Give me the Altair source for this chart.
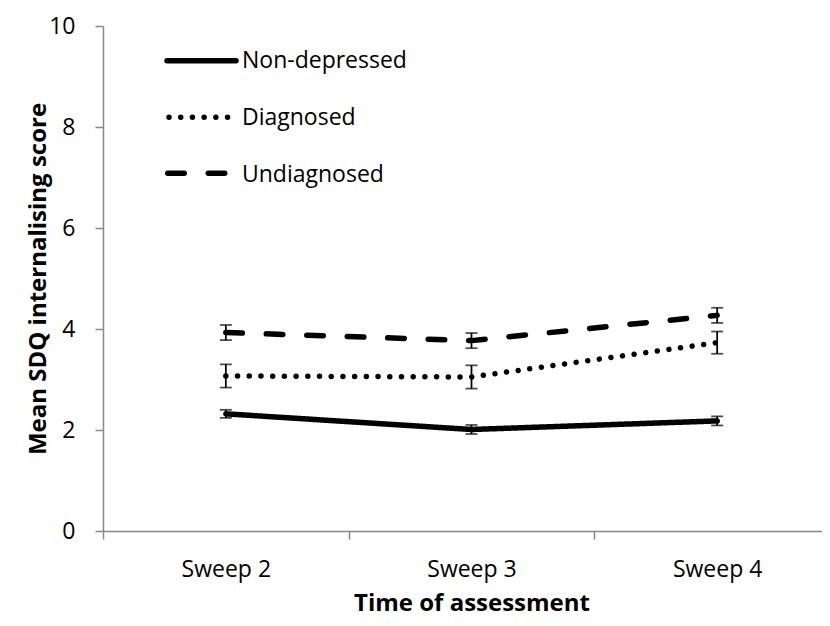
import altair as alt
import pandas as pd

# ---- data ----
sweeps = ["Sweep 2", "Sweep 3", "Sweep 4"]
groups = ["Non-depressed", "Diagnosed", "Undiagnosed"]
non_depressed = [2.32, 2.01, 2.18]
non_depressed_err = [0.08, 0.09, 0.09]
diagnosed = [3.07, 3.05, 3.73]
diagnosed_err = [0.23, 0.23, 0.22]
undiagnosed = [3.93, 3.77, 4.27]
undiagnosed_err = [0.15, 0.15, 0.15]
y_ticks = [0, 2, 4, 6, 8, 10]

rows = []
for g, vals, errs in zip(groups,
                         [non_depressed, diagnosed, undiagnosed],
                         [non_depressed_err, diagnosed_err, undiagnosed_err]):
    for s, v, e in zip(sweeps, vals, errs):
        rows.append({"sweep": s, "group": g, "mean": v, "lo": v - e, "hi": v + e})
df = pd.DataFrame(rows)

FONT = "Open Sans"
GRAY = "#888888"
LW = 5.5
dashes = [[1, 0], [0.01, 11.7], [16.5, 24]]

x_enc = alt.X(
    "sweep:N", sort=sweeps,
    scale=alt.Scale(type="band", domain=sweeps, range=[0, 737], paddingInner=0, paddingOuter=0),
    axis=alt.Axis(title="Time of assessment", tickBand="extent", labelAngle=0,
                  labelBaseline="alphabetic", labelPadding=37,
                  titleX=368.5, titleY=79, titleBaseline="alphabetic", titleAlign="center"),
)
y_axis = alt.Axis(values=y_ticks, title="Mean SDQ internalising score",
                  labelPadding=20, titleX=-58, titleY=252.5,
                  titleBaseline="alphabetic", titleAlign="center", titleAngle=270)
y_scale = alt.Scale(domain=[0, 10], nice=False, zero=True)

base = alt.Chart(df)

lines = base.mark_line(color="black", strokeWidth=LW, strokeCap="round", strokeJoin="round").encode(
    x=x_enc,
    y=alt.Y("mean:Q", scale=y_scale, axis=y_axis),
    strokeDash=alt.StrokeDash("group:N", scale=alt.Scale(domain=groups, range=dashes), legend=None),
    detail="group:N",
)

err_rules = base.mark_rule(color="black", strokeWidth=1.75).encode(
    x=x_enc,
    y=alt.Y("lo:Q", scale=y_scale, axis=y_axis),
    y2="hi:Q",
)
cap_lo = base.mark_tick(color="black", thickness=1.75, size=12, orient="horizontal").encode(
    x=x_enc, y=alt.Y("lo:Q", scale=y_scale, axis=y_axis))
cap_hi = base.mark_tick(color="black", thickness=1.75, size=12, orient="horizontal").encode(
    x=x_enc, y=alt.Y("hi:Q", scale=y_scale, axis=y_axis))

# ---- legend (drawn in the top-left of the plot, as in the reference) ----
leg_line_y = [34.7, 91.3, 147.3]
leg_text_y = [42.3, 98.8, 155.5]
leg_x = [[64, 133], [66, 127], [64.75, 122.5]]
legend_layers = []
for g, d, ly, ty, (x1, x2) in zip(groups, dashes, leg_line_y, leg_text_y, leg_x):
    ldf = pd.DataFrame({"group": [g]})
    legend_layers.append(
        alt.Chart(ldf).mark_rule(color="black", strokeWidth=LW, strokeCap="round", strokeDash=d)
        .encode(x=alt.value(x1), x2=alt.value(x2), y=alt.value(ly))
    )
    legend_layers.append(
        alt.Chart(ldf).mark_text(align="left", baseline="alphabetic", font=FONT, fontSize=23, color="black")
        .encode(x=alt.value(139), y=alt.value(ty), text="group:N")
    )

chart = alt.layer(lines, err_rules, cap_lo, cap_hi, *legend_layers).properties(
    width=719,
    height=505,
    autosize=alt.AutoSizeParams(type="none"),
    padding={"left": 95, "top": 18, "right": 0, "bottom": 87},
    background="white",
).configure_view(stroke=None).configure_axis(
    grid=False,
    domainColor=GRAY, domainWidth=1.5,
    tickColor=GRAY, tickWidth=1.5, tickSize=8,
    labelFont=FONT, labelFontSize=23, labelColor="black",
    titleFont=FONT, titleFontSize=24, titleFontWeight="bold", titleColor="black",
)

chart.save("out.html", embed_options={"renderer": "svg", "actions": False})
